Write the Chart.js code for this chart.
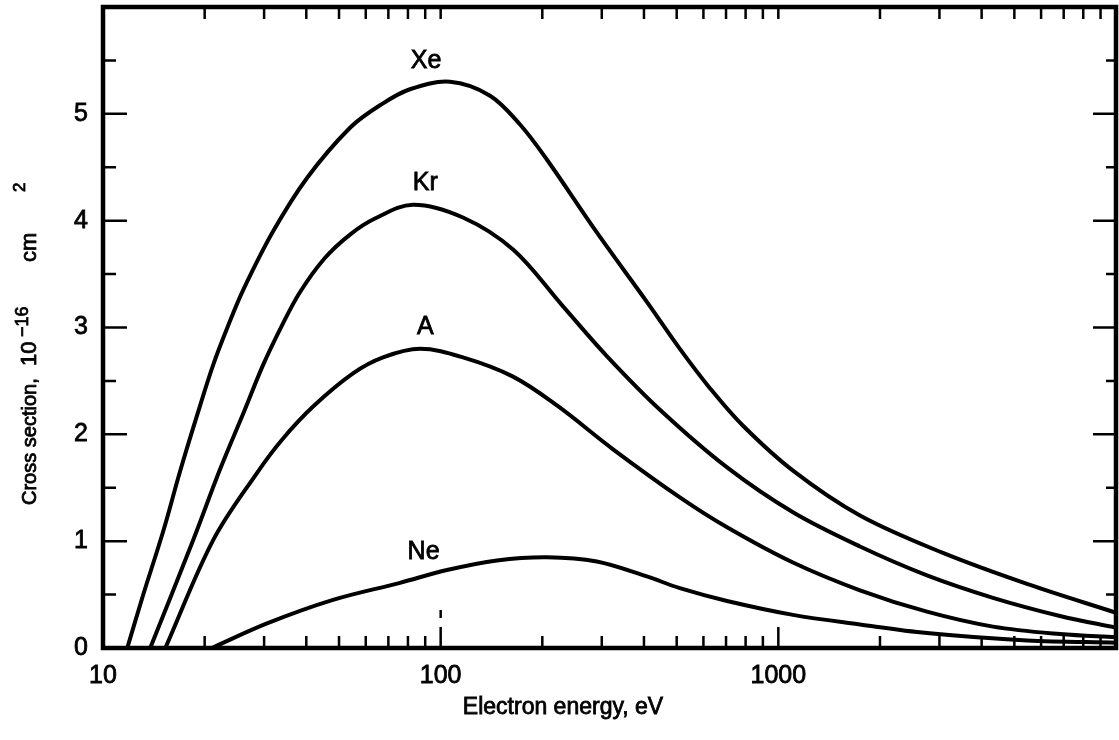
<!DOCTYPE html>
<html>
<head>
<meta charset="utf-8">
<script src="https://cdn.jsdelivr.net/npm/chart.js@4/dist/chart.umd.min.js"></script>
<style>
  body { margin: 0; background: #fff; }
  #wrap { width: 1119px; height: 740px; }
</style>
</head>
<body>
<div id="wrap"><canvas id="xsChart"></canvas></div>
<script>
// energies in eV, cross sections in 1e-16 cm^2
const xeEnergy = [11.8, 13.1, 15.1, 16.9, 19.0, 21.2, 23.5, 26, 31.9, 40.2, 53.9, 66.1, 81.1, 106.6, 140, 171.8, 206.5, 290, 408, 511, 628, 786, 1105, 1745, 3073, 5450, 10000];
const xeSigma  = [0, 0.48, 1.10, 1.65, 2.18, 2.65, 3.02, 3.35, 3.90, 4.40, 4.87, 5.08, 5.23, 5.30, 5.17, 4.90, 4.57, 3.89, 3.24, 2.80, 2.43, 2.08, 1.66, 1.24, 0.89, 0.60, 0.33];

const krEnergy = [13.8, 18.5, 22.2, 26.3, 29.8, 33.9, 38.3, 45.4, 53.9, 63.9, 82.8, 116.4, 163.8, 230, 311, 446, 705, 1105, 1745, 2755, 4322, 6825, 10000];
const krSigma  = [0, 1.01, 1.67, 2.23, 2.65, 3.02, 3.33, 3.65, 3.87, 4.02, 4.15, 4.03, 3.73, 3.20, 2.73, 2.23, 1.69, 1.27, 0.95, 0.68, 0.47, 0.30, 0.19];

const arEnergy = [15.3, 21.2, 28.6, 33.9, 41.9, 55, 67.5, 86.9, 116.4, 163.8, 221, 324, 511, 705, 1105, 1745, 2755, 4322, 6825, 10000];
const arSigma  = [0, 1.01, 1.64, 1.95, 2.26, 2.57, 2.72, 2.80, 2.72, 2.54, 2.27, 1.86, 1.41, 1.13, 0.80, 0.54, 0.34, 0.20, 0.13, 0.10];

const neEnergy = [21, 30.6, 48, 75.8, 104.4, 146.8, 206.5, 290, 408, 511, 705, 1105, 1745, 2755, 5450, 10000];
const neSigma  = [0, 0.23, 0.45, 0.61, 0.73, 0.82, 0.85, 0.81, 0.67, 0.56, 0.44, 0.31, 0.22, 0.14, 0.07, 0.05];

// curve labels
const curveNames = ['Xe', 'Kr', 'A', 'Ne'];
const curveLabelX = [90.5, 90, 90, 89];
const curveLabelY = [5.49, 4.35, 3.0, 0.90];

// axis ticks
const xTickValues = [10, 100, 1000];
const yTickValues = [0, 1, 2, 3, 4, 5];

const FONT = "'Liberation Sans', Arial, sans-serif";

function pts(xs, ys) {
  return xs.map((x, i) => ({ x: x, y: ys[i] }));
}

function curve(label, xs, ys) {
  return {
    label: label,
    data: pts(xs, ys),
    borderColor: '#000',
    borderWidth: 4,
    pointRadius: 0,
    fill: false,
    tension: 0.35
  };
}

function heavyText(ctx, txt, x, y) {
  ctx.strokeText(txt, x, y);
  ctx.fillText(txt, x, y);
}

// frame, inward ticks, curve labels and axis titles
const decorPlugin = {
  id: 'decor',
  afterDraw(chart) {
    const ctx = chart.ctx;
    const a = chart.chartArea;
    const xs = chart.scales.x, ys = chart.scales.y;
    ctx.save();
    ctx.strokeStyle = '#000';
    ctx.lineCap = 'butt';

    // ticks on x (bottom + top)
    ctx.lineWidth = 2.5;
    for (let dec = 10; dec < 10000; dec *= 10) {
      for (let m = 1; m < 10; m++) {
        const v = dec * m;
        if (v <= 10) continue;
        const px = xs.getPixelForValue(v);
        const major = m === 1;
        ctx.beginPath();
        ctx.moveTo(px, a.bottom);
        ctx.lineTo(px, a.bottom - (major ? 21 : 12));
        ctx.moveTo(px, a.top);
        ctx.lineTo(px, a.top + 12);
        ctx.stroke();
      }
    }
    // little dash above the 100 tick
    const p100 = xs.getPixelForValue(100);
    ctx.beginPath();
    ctx.moveTo(p100, a.bottom - 38);
    ctx.lineTo(p100, a.bottom - 30);
    ctx.stroke();

    // ticks on y (left + right)
    for (let v = 0.5; v < 6; v += 0.5) {
      const py = ys.getPixelForValue(v);
      const major = Number.isInteger(v);
      ctx.beginPath();
      ctx.moveTo(a.left, py);
      ctx.lineTo(a.left + (major ? 24 : 13), py);
      ctx.moveTo(a.right, py);
      ctx.lineTo(a.right - (major ? 23 : 10), py);
      ctx.stroke();
    }

    // frame
    ctx.lineWidth = 4.5;
    ctx.strokeRect(a.left, a.top, a.right - a.left, a.bottom - a.top);

    // curve labels
    ctx.fillStyle = '#000';
    ctx.lineWidth = 0.8;
    ctx.font = '25px ' + FONT;
    ctx.textAlign = 'center';
    ctx.textBaseline = 'middle';
    curveNames.forEach((n, i) => {
      heavyText(ctx, n, xs.getPixelForValue(curveLabelX[i]), ys.getPixelForValue(curveLabelY[i]));
    });

    // x axis title
    ctx.font = '23px ' + FONT;
    heavyText(ctx, 'Electron energy, eV', 563, 708);

    // y axis title, drawn along a rotated baseline
    ctx.translate(36, 505);
    ctx.rotate(-Math.PI / 2);
    ctx.textAlign = 'left';
    ctx.textBaseline = 'alphabetic';
    ctx.font = '20px ' + FONT;
    heavyText(ctx, 'Cross section,', 0, 0);
    ctx.font = '22px ' + FONT;
    heavyText(ctx, '10', 139, 0);
    heavyText(ctx, 'cm', 243, 0);
    ctx.font = '18px ' + FONT;
    heavyText(ctx, '\u221216', 168, -8);
    ctx.font = '17px ' + FONT;
    heavyText(ctx, '2', 313, -11);
    ctx.restore();
  }
};

new Chart(document.getElementById('xsChart'), {
  type: 'line',
  data: {
    datasets: [
      curve('Xe', xeEnergy, xeSigma),
      curve('Kr', krEnergy, krSigma),
      curve('A', arEnergy, arSigma),
      curve('Ne', neEnergy, neSigma)
    ]
  },
  options: {
    responsive: true,
    maintainAspectRatio: false,
    animation: false,
    layout: { padding: { left: 0, right: 3, top: 7, bottom: 0 } },
    plugins: { legend: { display: false }, tooltip: { enabled: false } },
    scales: {
      x: {
        type: 'logarithmic',
        min: 10,
        max: 10000,
        grid: { display: false },
        border: { display: false },
        afterBuildTicks: s => { s.ticks = xTickValues.map(v => ({ value: v })); },
        afterFit: s => { s.height = 92; s.paddingLeft = 0; s.paddingRight = 0; },
        ticks: {
          color: '#000',
          font: { family: FONT, size: 25 },
          textStrokeColor: '#000',
          textStrokeWidth: 0.8,
          padding: 5,
          maxRotation: 0,
          callback: v => String(v)
        }
      },
      y: {
        min: 0,
        max: 6,
        grid: { display: false },
        border: { display: false },
        afterBuildTicks: s => { s.ticks = yTickValues.map(v => ({ value: v })); },
        afterFit: s => { s.width = 103; s.paddingTop = 0; s.paddingBottom = 0; },
        ticks: {
          color: '#000',
          font: { family: FONT, size: 25 },
          textStrokeColor: '#000',
          textStrokeWidth: 0.8,
          padding: 7
        }
      }
    }
  },
  plugins: [decorPlugin]
});
</script>
</body>
</html>
